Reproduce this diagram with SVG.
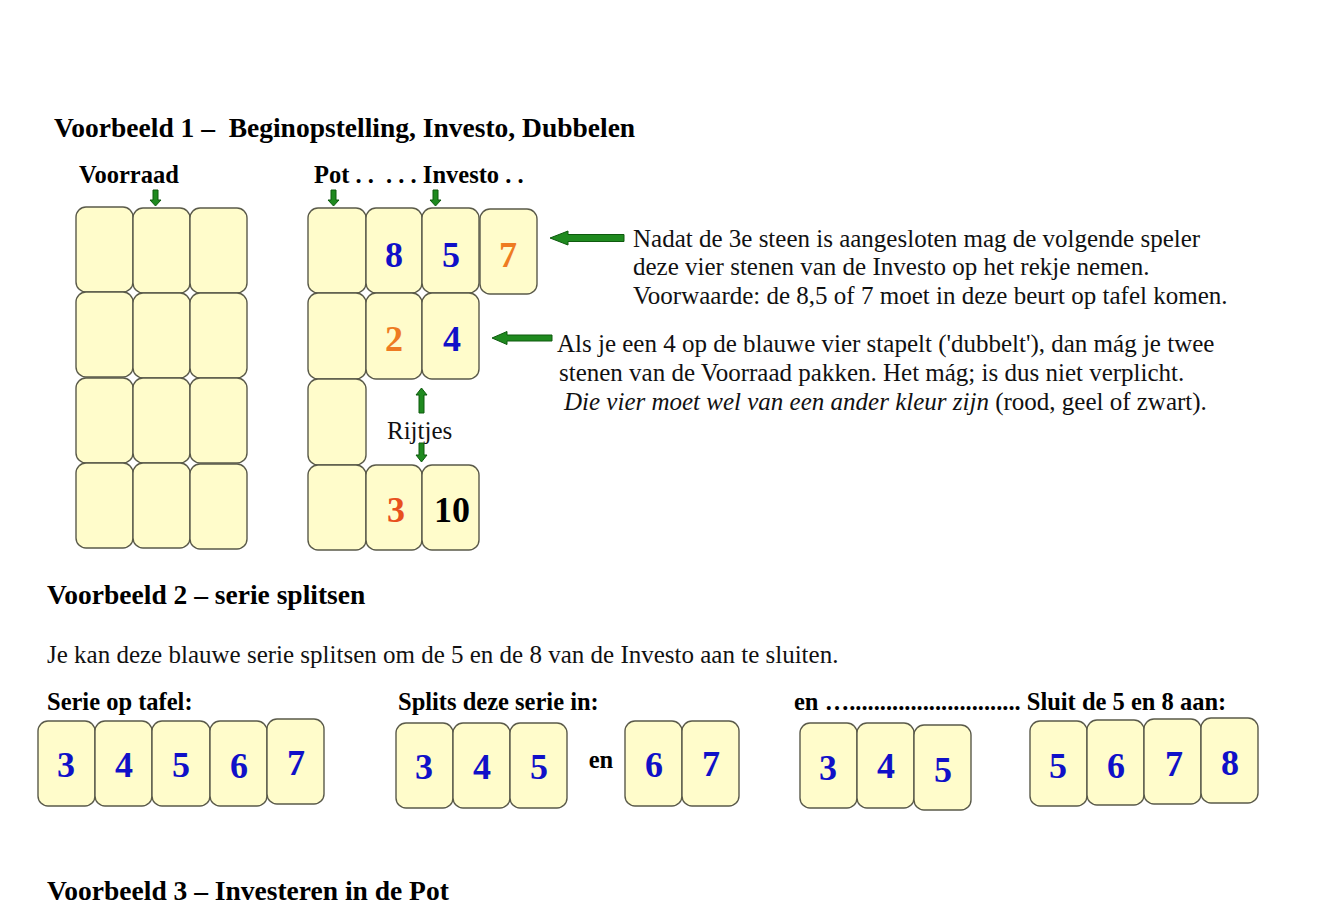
<svg xmlns="http://www.w3.org/2000/svg" width="1339" height="912" viewBox="0 0 1339 912">
<style>
.tile{fill:#FFFCCB;stroke:#5a5a4a;stroke-width:1.4}
.dig{font-family:"Liberation Serif",serif;font-weight:bold;font-size:36px;text-anchor:middle}
.blue{fill:#1010C8}
.orange{fill:#EE7B22}
.red{fill:#E8501E}
.black{fill:#000}
.h1{font-family:"Liberation Serif",serif;font-weight:bold;font-size:27.5px;fill:#000}
.lbl{font-family:"Liberation Serif",serif;font-weight:bold;font-size:24.5px;fill:#000}
.body{font-family:"Liberation Serif",serif;font-size:25px;fill:#111}
.arr{fill:#1F8A1F;stroke:#0E5A0E;stroke-width:1}
</style>
<rect width="1339" height="912" fill="#fff"/>

<g id="titles">
<text class="h1" x="54" y="137" xml:space="preserve">Voorbeeld 1 –  Beginopstelling, Investo, Dubbelen</text>
<text class="lbl" x="79" y="183">Voorraad</text>
<text class="lbl" x="314" y="183" xml:space="preserve">Pot . .  . . . Investo . .</text>
<text class="h1" x="47" y="604">Voorbeeld 2 – serie splitsen</text>
<text class="body" x="47" y="663">Je kan deze blauwe serie splitsen om de 5 en de 8 van de Investo aan te sluiten.</text>
<text class="lbl" x="47" y="710">Serie op tafel:</text>
<text class="lbl" x="398" y="710">Splits deze serie in:</text>
<text class="lbl" x="794" y="710">en …............................ Sluit de 5 en 8 aan:</text>
<text class="h1" x="47" y="900">Voorbeeld 3 – Investeren in de Pot</text>
</g>

<g id="notes">
<text class="body" x="633" y="247">Nadat de 3e steen is aangesloten mag de volgende speler</text>
<text class="body" x="633" y="275">deze vier stenen van de Investo op het rekje nemen.</text>
<text class="body" x="633" y="304">Voorwaarde: de 8,5 of 7 moet in deze beurt op tafel komen.</text>
<text class="body" x="557" y="352">Als je een 4 op de blauwe vier stapelt ('dubbelt'), dan mág je twee</text>
<text class="body" x="559" y="381">stenen van de Voorraad pakken. Het mág; is dus niet verplicht.</text>
<text class="body" x="564" y="410"><tspan font-style="italic">Die vier moet wel van een ander kleur zijn</tspan> (rood, geel of zwart).</text>
<text class="body" x="387" y="439">Rijtjes</text>
</g>

<g id="voorraad">
<rect class="tile" x="76" y="207" width="57" height="85" rx="10"/>
<rect class="tile" x="133" y="208" width="57" height="85" rx="10"/>
<rect class="tile" x="190" y="208" width="57" height="85" rx="10"/>
<rect class="tile" x="76" y="292" width="57" height="85" rx="10"/>
<rect class="tile" x="133" y="293" width="57" height="85" rx="10"/>
<rect class="tile" x="190" y="293" width="57" height="85" rx="10"/>
<rect class="tile" x="76" y="378" width="57" height="85" rx="10"/>
<rect class="tile" x="133" y="378" width="57" height="85" rx="10"/>
<rect class="tile" x="190" y="378" width="57" height="85" rx="10"/>
<rect class="tile" x="76" y="463" width="57" height="85" rx="10"/>
<rect class="tile" x="133" y="463" width="57" height="85" rx="10"/>
<rect class="tile" x="190" y="464" width="57" height="85" rx="10"/>
</g>

<g id="pot">
<rect class="tile" x="308" y="208" width="58" height="85" rx="10"/>
<rect class="tile" x="308" y="293" width="58" height="86" rx="10"/>
<rect class="tile" x="308" y="379" width="58" height="86" rx="10"/>
<rect class="tile" x="308" y="465" width="58" height="85" rx="10"/>
</g>

<g id="investo">
<rect class="tile" x="366" y="208" width="56" height="85" rx="10"/>
<text class="dig blue" x="394" y="267">8</text>
<rect class="tile" x="422" y="208" width="57" height="85" rx="10"/>
<text class="dig blue" x="451" y="267">5</text>
<rect class="tile" x="480" y="209" width="57" height="85" rx="10"/>
<text class="dig orange" x="508" y="267">7</text>
</g>

<g id="rij1">
<rect class="tile" x="366" y="293" width="56" height="86" rx="10"/>
<text class="dig orange" x="394" y="351">2</text>
<rect class="tile" x="422" y="293" width="57" height="86" rx="10"/>
<text class="dig blue" x="452" y="351">4</text>
</g>

<g id="rij2">
<rect class="tile" x="366" y="465" width="56" height="85" rx="10"/>
<text class="dig red" x="396" y="522">3</text>
<rect class="tile" x="422" y="465" width="57" height="85" rx="10"/>
<text class="dig black" x="452" y="522">10</text>
</g>

<g id="serie">
<rect class="tile" x="38" y="721" width="57" height="85" rx="10"/>
<text class="dig blue" x="66" y="777">3</text>
<rect class="tile" x="95" y="721" width="57" height="85" rx="10"/>
<text class="dig blue" x="124" y="777">4</text>
<rect class="tile" x="152" y="721" width="58" height="85" rx="10"/>
<text class="dig blue" x="181" y="777">5</text>
<rect class="tile" x="210" y="721" width="57" height="85" rx="10"/>
<text class="dig blue" x="239" y="778">6</text>
<rect class="tile" x="267" y="719" width="57" height="85" rx="10"/>
<text class="dig blue" x="296" y="775">7</text>
</g>

<g id="split-a">
<rect class="tile" x="396" y="723" width="57" height="85" rx="10"/>
<text class="dig blue" x="424" y="779">3</text>
<rect class="tile" x="453" y="723" width="57" height="85" rx="10"/>
<text class="dig blue" x="482" y="779">4</text>
<rect class="tile" x="510" y="723" width="57" height="85" rx="10"/>
<text class="dig blue" x="539" y="779">5</text>
</g>
<text class="lbl" x="601" y="768" text-anchor="middle" font-size="22">en</text>
<g id="split-b">
<rect class="tile" x="625" y="721" width="57" height="85" rx="10"/>
<text class="dig blue" x="654" y="777">6</text>
<rect class="tile" x="682" y="721" width="57" height="85" rx="10"/>
<text class="dig blue" x="711" y="776">7</text>
</g>

<g id="rest">
<rect class="tile" x="800" y="723" width="57" height="85" rx="10"/>
<text class="dig blue" x="828" y="780">3</text>
<rect class="tile" x="857" y="723" width="57" height="85" rx="10"/>
<text class="dig blue" x="886" y="778">4</text>
<rect class="tile" x="914" y="725" width="57" height="85" rx="10"/>
<text class="dig blue" x="943" y="782">5</text>
</g>

<g id="aangesloten">
<rect class="tile" x="1030" y="721" width="57" height="85" rx="10"/>
<text class="dig blue" x="1058" y="778">5</text>
<rect class="tile" x="1087" y="720" width="57" height="85" rx="10"/>
<text class="dig blue" x="1116" y="778">6</text>
<rect class="tile" x="1144" y="719" width="57" height="85" rx="10"/>
<text class="dig blue" x="1174" y="776">7</text>
<rect class="tile" x="1201" y="718" width="57" height="85" rx="10"/>
<text class="dig blue" x="1230" y="775">8</text>
</g>

<g id="connectors">
<polygon class="arr" points="550,238 568,231 568,234.5 624,234.5 624,241.5 568,241.5 568,245"/>
<polygon class="arr" points="492,338 507,331.5 507,335 552,335 552,341 507,341 507,344.5"/>
<polygon class="arr" points="153,190 158,190 158,200 161,200 155.5,206 150,200 153,200"/>
<polygon class="arr" points="331,190 336,190 336,200 339,200 333.5,206 328,200 331,200"/>
<polygon class="arr" points="433,190 438,190 438,200 441,200 435.5,206 430,200 433,200"/>
<polygon class="arr" points="421.5,388 427,395 424,395 424,413 419,413 419,395 416,395"/>
<polygon class="arr" points="419,443 424,443 424,455 427,455 421.5,462 416,455 419,455"/>
</g>
</svg>
